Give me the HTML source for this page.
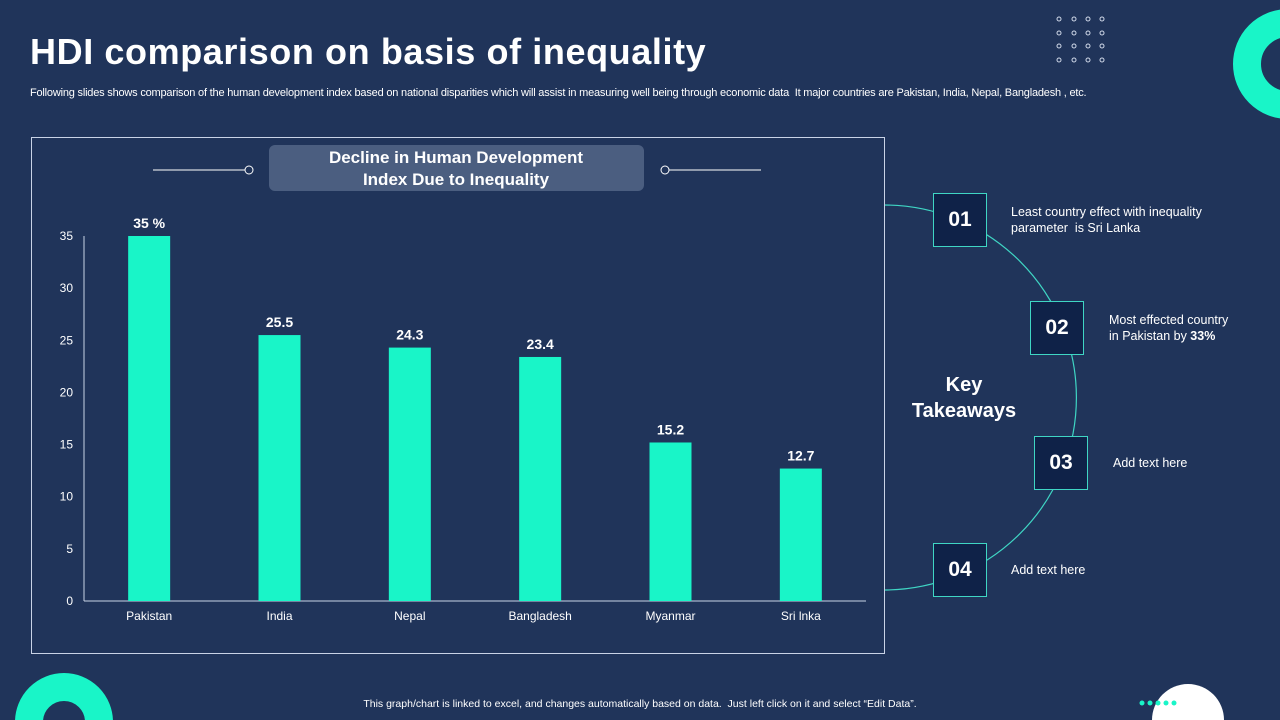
<!DOCTYPE html>
<html><head><meta charset="utf-8"><style>
html,body{margin:0;width:1280px;height:720px;overflow:hidden}
body{background:#20345a;position:relative;font-family:"Liberation Sans",sans-serif;color:#fff}
.abs{position:absolute}
.box{position:absolute;width:52px;height:52px;background:#0f2248;border:1px solid #3fd6c4;color:#fff;font-weight:bold;font-size:21px;display:flex;align-items:center;justify-content:center}
.tk{position:absolute;font-size:12.5px;line-height:16px;color:#fff}
</style></head><body>
<div class="abs" style="left:30px;top:31px;font-size:36px;font-weight:bold;letter-spacing:0.6px;white-space:nowrap">HDI comparison on basis of inequality</div>
<div class="abs" style="left:30px;top:87px;font-size:11px;letter-spacing:-0.2px;white-space:nowrap">Following slides shows comparison of the human development index based on national disparities which will assist in measuring well being through economic data&nbsp; It major countries are Pakistan, India, Nepal, Bangladesh , etc.</div>
<svg class="abs" style="left:0;top:0" width="1280" height="720">
<g fill="none" stroke="#cfd8e8" stroke-width="1">
<circle cx="1059" cy="19" r="2"/><circle cx="1074" cy="19" r="2"/><circle cx="1088" cy="19" r="2"/><circle cx="1102" cy="19" r="2"/>
<circle cx="1059" cy="33" r="2"/><circle cx="1074" cy="33" r="2"/><circle cx="1088" cy="33" r="2"/><circle cx="1102" cy="33" r="2"/>
<circle cx="1059" cy="46" r="2"/><circle cx="1074" cy="46" r="2"/><circle cx="1088" cy="46" r="2"/><circle cx="1102" cy="46" r="2"/>
<circle cx="1059" cy="60" r="2"/><circle cx="1074" cy="60" r="2"/><circle cx="1088" cy="60" r="2"/><circle cx="1102" cy="60" r="2"/>
</g>
<circle cx="1288" cy="64" r="41" fill="none" stroke="#19f5c8" stroke-width="28"/>
<circle cx="64" cy="722" r="35" fill="none" stroke="#19f5c8" stroke-width="28"/>
<path d="M1152 720 A36 36 0 0 1 1224 720 Z" fill="#fff"/>
<g fill="#19f5c8"><circle cx="1142" cy="703" r="2.5"/><circle cx="1150" cy="703" r="2.5"/><circle cx="1158" cy="703" r="2.5"/><circle cx="1166" cy="703" r="2.5"/><circle cx="1174" cy="703" r="2.5"/></g>
<path d="M884 205 A192 192 0 0 1 884 590" fill="none" stroke="#3fd6c4" stroke-width="1.2"/>
</svg>
<div class="abs" style="left:31px;top:137px;width:852px;height:515px;border:1px solid #c9d3e6"></div>
<svg id="chart" class="abs" style="left:0;top:0" width="1280" height="720">
<line x1="153" y1="170" x2="246" y2="170" stroke="#fff"/><circle cx="249" cy="170" r="4" fill="#20345a" stroke="#fff"/>
<line x1="668" y1="170" x2="761" y2="170" stroke="#fff"/><circle cx="665" cy="170" r="4" fill="#20345a" stroke="#fff"/>
<rect x="269" y="145" width="375" height="46" rx="6" fill="#4b5e80"/>
<text x="456" y="163" fill="#fff" font-size="17" font-weight="bold" text-anchor="middle" font-family="Liberation Sans">Decline in Human Development</text>
<text x="456" y="185" fill="#fff" font-size="17" font-weight="bold" text-anchor="middle" font-family="Liberation Sans">Index Due to Inequality</text>
</svg>
<div class="abs" style="left:890px;top:372px;width:148px;text-align:center;font-size:20px;font-weight:bold;line-height:26px">Key<br>Takeaways</div>
<div class="box" style="left:933px;top:193px">01</div>
<div class="box" style="left:1030px;top:301px">02</div>
<div class="box" style="left:1034px;top:436px">03</div>
<div class="box" style="left:933px;top:543px">04</div>
<div class="tk" style="left:1011px;top:204px">Least country effect with inequality<br>parameter&nbsp; is Sri Lanka</div>
<div class="tk" style="left:1109px;top:312px">Most effected country<br>in Pakistan by <b>33%</b></div>
<div class="tk" style="left:1113px;top:455px">Add text here</div>
<div class="tk" style="left:1011px;top:562px">Add text here</div>
<div class="abs" style="left:0;width:1280px;top:698px;text-align:center;font-size:10.5px;line-height:12px;white-space:nowrap">This graph/chart is linked to excel, and changes automatically based on data.&nbsp; Just left click on it and select “Edit Data”.</div>
<script>
const categories=["Pakistan","India","Nepal","Bangladesh","Myanmar","Sri lnka"];
const values=[35,25.5,24.3,23.4,15.2,12.7];
const valueLabels=["35 %","25.5","24.3","23.4","15.2","12.7"];
const yTicks=[0,5,10,15,20,25,30,35];
const svg=document.getElementById('chart');
const NS='http://www.w3.org/2000/svg';
const y0=601,yTop=236,yMax=35,xL=84,xR=866;
const y=v=>y0-(v/yMax)*(y0-yTop);
const step=(xR-xL)/categories.length;
const x=i=>xL+step*(i+0.5);
function mk(t,a){const e=document.createElementNS(NS,t);for(const k in a)e.setAttribute(k,a[k]);svg.appendChild(e);return e;}
const ax=mk('line',{x1:xL,y1:y0,x2:xR,y2:y0,stroke:'#c9d3e6'});


const ay=mk('line',{x1:xL,y1:y0,x2:xL,y2:yTop,stroke:'#c9d3e6'});


yTicks.forEach(v=>{const t=mk('text',{x:73,y:y(v)+4,fill:'#fff','font-size':12,'text-anchor':'end','font-family':'Liberation Sans'});t.textContent=v;

});
categories.forEach((c,i)=>{
const b=mk('rect',{x:x(i)-21,y:y(values[i]),width:42,height:y0-y(values[i]),fill:'#19f5c8'});


const l=mk('text',{x:x(i),y:y(values[i])-8,fill:'#fff','font-size':14,'font-weight':'bold','text-anchor':'middle','font-family':'Liberation Sans'});l.textContent=valueLabels[i];


const cl=mk('text',{x:x(i),y:y0+19,fill:'#fff','font-size':12,'text-anchor':'middle','font-family':'Liberation Sans'});cl.textContent=c;


});
</script>
</body></html>
